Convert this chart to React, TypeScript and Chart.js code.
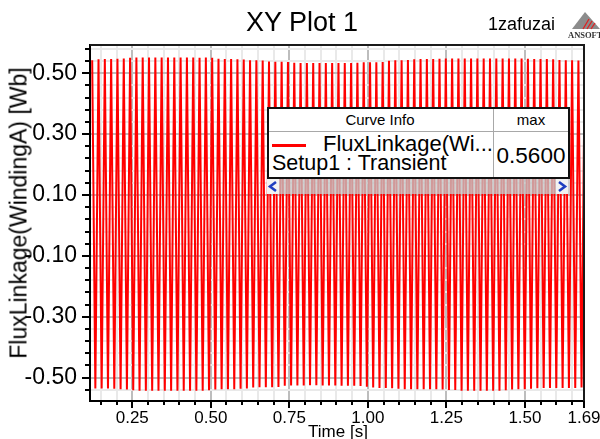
import React, { useEffect, useRef } from 'react';
import { Chart, registerables } from 'chart.js';

Chart.register(...registerables);

const FONT = '"Liberation Sans", Arial, Helvetica, sans-serif';

// ---- axes ----
const X_MIN = 0.1155;
const X_MAX = 1.688;
const Y_MIN = -0.577;
const Y_MAX = 0.593;

const X_TICKS = [
  0.15, 0.2, 0.25, 0.3, 0.35, 0.4, 0.45, 0.5, 0.55, 0.6, 0.65, 0.7, 0.75, 0.8, 0.85, 0.9, 0.95,
  1.0, 1.05, 1.1, 1.15, 1.2, 1.25, 1.3, 1.35, 1.4, 1.45, 1.5, 1.55, 1.6, 1.65, 1.688,
];
const X_LABELED = [0.25, 0.5, 0.75, 1.0, 1.25, 1.5, 1.688];

const Y_TICKS = [
  -0.54, -0.5, -0.46, -0.42, -0.38, -0.34, -0.3, -0.26, -0.22, -0.18, -0.14, -0.1, -0.06, -0.02,
  0.02, 0.06, 0.1, 0.14, 0.18, 0.22, 0.26, 0.3, 0.34, 0.38, 0.42, 0.46, 0.5, 0.54, 0.58,
];
const Y_LABELED = [-0.5, -0.3, -0.1, 0.1, 0.3, 0.5];

// ---- series: FluxLinkage(WindingA), extremes ----
const PEAK_TIMES = [
  0.1225, 0.1426, 0.1627, 0.1828, 0.2029, 0.2230, 0.2431, 0.2632, 0.2833, 0.3034,
  0.3235, 0.3436, 0.3637, 0.3838, 0.4039, 0.4240, 0.4441, 0.4642, 0.4843, 0.5044,
  0.5245, 0.5446, 0.5647, 0.5848, 0.6049, 0.6250, 0.6451, 0.6652, 0.6853, 0.7054,
  0.7255, 0.7456, 0.7657, 0.7858, 0.8059, 0.8260, 0.8461, 0.8662, 0.8863, 0.9064,
  0.9265, 0.9466, 0.9667, 0.9868, 1.0069, 1.0270, 1.0471, 1.0672, 1.0873, 1.1074,
  1.1275, 1.1476, 1.1677, 1.1878, 1.2079, 1.2280, 1.2481, 1.2682, 1.2883, 1.3084,
  1.3285, 1.3486, 1.3687, 1.3888, 1.4089, 1.4290, 1.4491, 1.4692, 1.4893, 1.5094,
  1.5295, 1.5496, 1.5697, 1.5898, 1.6099, 1.6300, 1.6501, 1.6702, 1.6903,
];
const PEAK_VALUES = [
  0.543, 0.546, 0.547, 0.547, 0.548, 0.549, 0.551, 0.552, 0.552, 0.552,
  0.552, 0.552, 0.552, 0.552, 0.552, 0.552, 0.552, 0.551, 0.552, 0.551,
  0.548, 0.547, 0.547, 0.546, 0.545, 0.543, 0.543, 0.542, 0.539, 0.538,
  0.538, 0.537, 0.535, 0.534, 0.534, 0.534, 0.534, 0.534, 0.534, 0.534,
  0.534, 0.534, 0.535, 0.536, 0.536, 0.536, 0.537, 0.541, 0.543, 0.543,
  0.544, 0.546, 0.547, 0.547, 0.547, 0.548, 0.549, 0.549, 0.549, 0.549,
  0.549, 0.549, 0.549, 0.549, 0.549, 0.549, 0.549, 0.549, 0.549, 0.548,
  0.547, 0.547, 0.547, 0.546, 0.544, 0.543, 0.543, 0.542, 0.538,
];
const TROUGH_TIMES = [
  0.1325, 0.1526, 0.1727, 0.1928, 0.2129, 0.2330, 0.2531, 0.2732, 0.2933, 0.3134,
  0.3335, 0.3536, 0.3737, 0.3938, 0.4139, 0.4340, 0.4541, 0.4742, 0.4943, 0.5144,
  0.5345, 0.5546, 0.5747, 0.5948, 0.6149, 0.6350, 0.6551, 0.6752, 0.6953, 0.7154,
  0.7355, 0.7556, 0.7757, 0.7958, 0.8159, 0.8360, 0.8561, 0.8762, 0.8963, 0.9164,
  0.9365, 0.9566, 0.9767, 0.9968, 1.0169, 1.0370, 1.0571, 1.0772, 1.0973, 1.1174,
  1.1375, 1.1576, 1.1777, 1.1978, 1.2179, 1.2380, 1.2581, 1.2782, 1.2983, 1.3184,
  1.3385, 1.3586, 1.3787, 1.3988, 1.4189, 1.4390, 1.4591, 1.4792, 1.4993, 1.5194,
  1.5395, 1.5596, 1.5797, 1.5998, 1.6199, 1.6400, 1.6601, 1.6802,
];
const TROUGH_VALUES = [
  -0.536, -0.536, -0.536, -0.537, -0.538, -0.539, -0.542, -0.543, -0.543, -0.543,
  -0.543, -0.543, -0.543, -0.543, -0.543, -0.543, -0.543, -0.543, -0.542, -0.539,
  -0.538, -0.538, -0.538, -0.537, -0.536, -0.533, -0.532, -0.532, -0.532, -0.531,
  -0.527, -0.526, -0.526, -0.526, -0.525, -0.525, -0.526, -0.526, -0.526, -0.527,
  -0.527, -0.527, -0.528, -0.530, -0.533, -0.534, -0.534, -0.535, -0.537, -0.538,
  -0.538, -0.538, -0.538, -0.538, -0.538, -0.539, -0.541, -0.541, -0.543, -0.543,
  -0.543, -0.543, -0.543, -0.543, -0.543, -0.542, -0.539, -0.538, -0.538, -0.537,
  -0.535, -0.534, -0.534, -0.534, -0.534, -0.534, -0.534, -0.533,
];

const isIn = (list: number[], v: number) => list.some((l) => Math.abs(l - v) < 1e-6);

const framePlugin = {
  id: 'maxwellFrame',
  afterDraw(chart: any) {
    const { ctx, chartArea } = chart;
    const xs = chart.scales.x;
    const ys = chart.scales.y;
    ctx.save();
    ctx.strokeStyle = '#000';
    ctx.lineWidth = 2;
    // y tick marks (outside, left)
    Y_TICKS.forEach((v) => {
      const py = Math.round(ys.getPixelForValue(v));
      const len = isIn(Y_LABELED, v) ? 8 : 5;
      ctx.beginPath();
      ctx.moveTo(chartArea.left - len, py);
      ctx.lineTo(chartArea.left, py);
      ctx.stroke();
    });
    // x tick marks (outside, below)
    X_TICKS.forEach((v) => {
      const px = Math.round(xs.getPixelForValue(v));
      const len = isIn(X_LABELED, v) ? 7 : 4;
      ctx.beginPath();
      ctx.moveTo(px, chartArea.bottom);
      ctx.lineTo(px, chartArea.bottom + len);
      ctx.stroke();
    });
    // frame top & right
    ctx.strokeStyle = '#1a1a1a';
    ctx.beginPath();
    ctx.moveTo(chartArea.left, Math.round(chartArea.top));
    ctx.lineTo(Math.round(chartArea.right), Math.round(chartArea.top));
    ctx.lineTo(Math.round(chartArea.right), chartArea.bottom);
    ctx.stroke();
    ctx.restore();
  },
};

function T(props: {
  x: number;
  base: number;
  size: number;
  align?: 'left' | 'center' | 'right';
  color?: string;
  family?: string;
  weight?: number;
  children: React.ReactNode;
}) {
  const { x, base, size, align = 'left', color = '#000', family = FONT, weight = 400 } = props;
  const style: React.CSSProperties = {
    position: 'absolute',
    top: base - 0.8465 * size,
    fontSize: size,
    lineHeight: `${size}px`,
    whiteSpace: 'nowrap',
    color,
    fontFamily: family,
    fontWeight: weight,
  };
  if (align === 'left') style.left = x;
  else if (align === 'center') {
    style.left = x;
    style.transform = 'translateX(-50%)';
  } else style.right = 600 - x;
  return <div style={style}>{props.children}</div>;
}

export default function App() {
  const ref = useRef<HTMLCanvasElement>(null);

  useEffect(() => {
    const canvas = ref.current;
    if (!canvas) return;
    const points: { x: number; y: number }[] = [];
    for (let k = 0; k < PEAK_TIMES.length; k++) {
      points.push({ x: PEAK_TIMES[k], y: PEAK_VALUES[k] });
      if (k < TROUGH_TIMES.length) points.push({ x: TROUGH_TIMES[k], y: TROUGH_VALUES[k] });
    }
    const chart = new Chart(canvas, {
      type: 'line',
      data: {
        datasets: [
          {
            label: 'FluxLinkage(WindingA) Setup1 : Transient',
            data: points,
            borderColor: '#ff0000',
            borderWidth: 2,
            pointRadius: 0,
            tension: 0,
            fill: false,
          },
        ],
      },
      options: {
        responsive: false,
        animation: false,
        devicePixelRatio: 1,
        layout: { padding: { top: 45, right: 16, left: 0, bottom: 0 } },
        plugins: {
          legend: { display: false },
          tooltip: { enabled: false },
          title: { display: false },
        },
        scales: {
          x: {
            type: 'linear',
            min: X_MIN,
            max: X_MAX,
            afterFit: (s: any) => {
              s.height = 38;
              s.paddingLeft = 0;
              s.paddingRight = 0;
            },
            afterBuildTicks: (s: any) => {
              s.ticks = X_TICKS.map((v) => ({ value: v }));
            },
            ticks: {
              autoSkip: false,
              maxRotation: 0,
              padding: 7,
              color: '#000',
              font: { family: FONT, size: 17 },
              callback: (v: any) => (isIn(X_LABELED, Number(v)) ? Number(v).toFixed(2) : ''),
            },
            grid: {
              drawTicks: false,
              lineWidth: 2,
              color: (c: any) => (c.tick && isIn(X_LABELED, c.tick.value) ? '#bdbdbd' : '#e9e9e9'),
            },
            border: { display: true, color: '#000', width: 2 },
          },
          y: {
            type: 'linear',
            min: Y_MIN,
            max: Y_MAX,
            afterFit: (s: any) => {
              s.width = 90;
              s.paddingTop = 0;
              s.paddingBottom = 0;
            },
            afterBuildTicks: (s: any) => {
              s.ticks = Y_TICKS.map((v) => ({ value: v }));
            },
            ticks: {
              autoSkip: false,
              padding: 13,
              color: '#000',
              font: { family: FONT, size: 23 },
              callback: (v: any) => (isIn(Y_LABELED, Number(v)) ? Number(v).toFixed(2) : ''),
            },
            grid: {
              drawTicks: false,
              lineWidth: 2,
              color: (c: any) => (c.tick && isIn(Y_LABELED, c.tick.value) ? '#bdbdbd' : '#e9e9e9'),
            },
            border: { display: true, color: '#000', width: 2 },
          },
        },
      },
      plugins: [framePlugin],
    } as any);
    return () => chart.destroy();
  }, []);

  return (
    <div
      style={{
        position: 'absolute',
        left: 0,
        top: 0,
        width: 600,
        height: 439,
        overflow: 'hidden',
        background: '#fff',
        fontFamily: FONT,
      }}
    >
      <canvas
        ref={ref}
        width={600}
        height={439}
        style={{ position: 'absolute', left: 0, top: 0, width: 600, height: 439, display: 'block' }}
      />

      {/* title & user */}
      <T x={302} base={32} size={27} align="center">XY Plot 1</T>
      <T x={488} base={30} size={18}>1zafuzai</T>

      {/* ANSOFT logo */}
      <svg
        width={31}
        height={20}
        style={{ position: 'absolute', left: 569, top: 11 }}
        viewBox="0 0 31 20"
      >
        <polygon points="16,1 3,18 31,18" fill="#8c8c8c" />
        <line x1="14" y1="18" x2="20" y2="8" stroke="#e02020" strokeWidth="1.3" />
        <line x1="18" y1="18" x2="23" y2="10" stroke="#e02020" strokeWidth="1.3" />
        <line x1="22" y1="18" x2="26" y2="12" stroke="#e02020" strokeWidth="1.3" />
      </svg>
      <T x={568} base={38} size={8.5} family={'"Liberation Serif", "DejaVu Serif", serif'} weight={700} color="#333">
        ANSOFT
      </T>

      {/* axis titles */}
      <T x={338} base={437} size={17} align="center">Time [s]</T>
      <div
        style={{
          position: 'absolute',
          left: 19,
          top: 213,
          fontSize: 23,
          lineHeight: '23px',
          whiteSpace: 'nowrap',
          transform: 'translate(-50%, -50%) rotate(-90deg)',
          fontFamily: FONT,
          color: '#000',
        }}
      >
        FluxLinkage(WindingA) [Wb]
      </div>

      {/* curve info box */}
      <div
        style={{
          position: 'absolute',
          left: 267,
          top: 107,
          width: 303,
          height: 72,
          boxSizing: 'border-box',
          border: '2px solid #111',
          background: '#fff',
        }}
      />
      <div style={{ position: 'absolute', left: 269, top: 131, width: 299, height: 1, background: '#a8a8a8' }} />
      <div style={{ position: 'absolute', left: 493, top: 109, width: 1, height: 68, background: '#a8a8a8' }} />
      <T x={380} base={125} size={15} align="center">Curve Info</T>
      <T x={531} base={125} size={15} align="center">max</T>
      <div style={{ position: 'absolute', left: 272, top: 143.5, width: 34, height: 3, background: '#ff0000' }} />
      <T x={323} base={152} size={22}>FluxLinkage(Wi...</T>
      <T x={272} base={171.5} size={21.5}>Setup1 : Transient</T>
      <T x={531} base={164} size={22.5} align="center">0.5600</T>

      {/* scroll bar */}
      <div
        style={{
          position: 'absolute',
          left: 267,
          top: 179,
          width: 303,
          height: 15,
          background: 'rgba(196,196,196,0.78)',
        }}
      />
      <svg width={12} height={15} style={{ position: 'absolute', left: 267, top: 179 }} viewBox="0 0 12 15">
        <rect x="0" y="0" width="12" height="15" fill="#f2f2f2" />
        <polyline points="9,3 3,7.5 9,12" fill="none" stroke="#1f3fc0" strokeWidth="2.6" />
      </svg>
      <svg width={12} height={15} style={{ position: 'absolute', left: 556, top: 179 }} viewBox="0 0 12 15">
        <rect x="0" y="0" width="12" height="15" fill="#f2f2f2" />
        <polyline points="3,3 9,7.5 3,12" fill="none" stroke="#1f3fc0" strokeWidth="2.6" />
      </svg>
    </div>
  );
}
